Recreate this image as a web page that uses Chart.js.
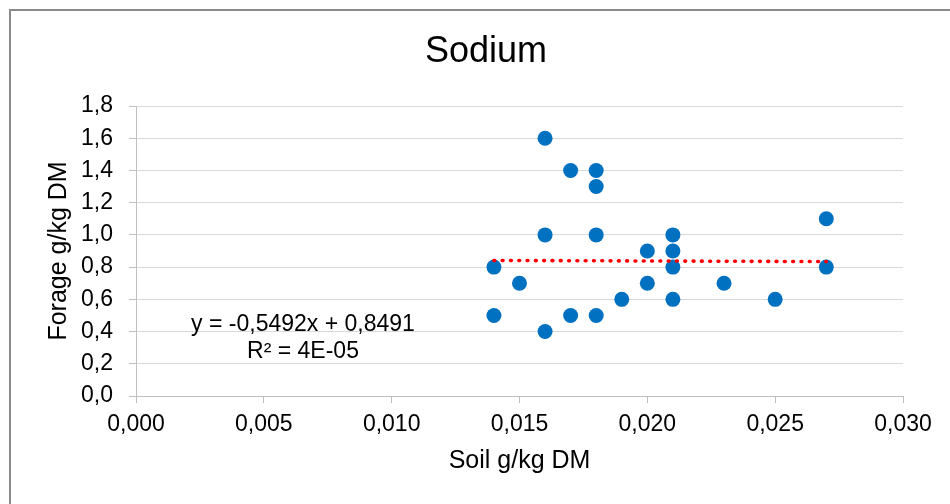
<!DOCTYPE html>
<html>
<head>
<meta charset="utf-8">
<script src="https://cdn.jsdelivr.net/npm/chart.js@4.4.1/dist/chart.umd.min.js"></script>
<style>
  html, body { margin: 0; padding: 0; background: #ffffff; }
  canvas { display: block; }
</style>
</head>
<body>
<canvas id="sodiumChart" width="950" height="504"></canvas>
<script>
// Soil vs forage sodium, g/kg DM
const soil = [0.014, 0.014, 0.015, 0.016, 0.016, 0.016, 0.017, 0.017, 0.018, 0.018, 0.018, 0.018,
              0.019, 0.020, 0.020, 0.021, 0.021, 0.021, 0.021, 0.023, 0.025, 0.027, 0.027];
const forage = [0.8, 0.5, 0.7, 1.6, 1.0, 0.4, 1.4, 0.5, 1.4, 1.3, 1.0, 0.5,
                0.6, 0.9, 0.7, 1.0, 0.9, 0.8, 0.6, 0.7, 0.6, 1.1, 0.8];

// Linear trendline as printed on the chart
const trendSlope = -0.5492;
const trendIntercept = 0.8491;
const trendLabel = ['y = -0,5492x + 0,8491', 'R² = 4E-05'];

const chartTitle = 'Sodium';
const xTitle = 'Soil g/kg DM';
const yTitle = 'Forage g/kg DM';

const FONT = '"Liberation Sans", Arial, sans-serif';

const trendX = [Math.min(...soil), Math.max(...soil)];
const trendPoints = trendX.map(x => ({ x: x, y: trendSlope * x + trendIntercept }));

// Frame, title and trendline label, drawn like the Excel chart
const decorPlugin = {
    id: 'decor',
    beforeDraw(chart) {
        const ctx = chart.ctx;
        ctx.save();
        ctx.fillStyle = '#ffffff';
        ctx.fillRect(0, 0, chart.width, chart.height);
        ctx.strokeStyle = '#8a8a8a';
        ctx.lineWidth = 2;
        ctx.beginPath();
        ctx.moveTo(10, chart.height);
        ctx.lineTo(10, 10);
        ctx.lineTo(chart.width, 10);
        ctx.stroke();
        ctx.restore();
    },
    afterDraw(chart) {
        const ctx = chart.ctx;
        ctx.save();
        ctx.fillStyle = '#000000';
        ctx.textAlign = 'center';
        ctx.textBaseline = 'middle';
        ctx.font = '36px ' + FONT;
        ctx.fillText(chartTitle, 486, 52);
        ctx.font = '23px ' + FONT;
        ctx.fillText(trendLabel[0], 303, 325);
        ctx.fillText(trendLabel[1], 303, 352);
        ctx.restore();
    }
};

const ctx = document.getElementById('sodiumChart').getContext('2d');
const sodiumChart = new Chart(ctx, {
    type: 'scatter',
    data: {
        datasets: [
            {
                label: 'Linear trend',
                type: 'line',
                data: trendPoints,
                borderColor: '#ff0000',
                borderWidth: 3.6,
                borderDash: [0.8, 7.5],
                borderCapStyle: 'round',
                pointRadius: 0,
                fill: false
            },
            {
                label: 'Sodium',
                data: soil.map((x, i) => ({ x: x, y: forage[i] })),
                backgroundColor: '#0070c0',
                borderWidth: 0,
                pointRadius: 7.5,
                pointHoverRadius: 7.5
            }
        ]
    },
    options: {
        responsive: false,
        animation: false,
        layout: {
            padding: { top: 106, right: 47, bottom: 0, left: 0 }
        },
        plugins: {
            legend: { display: false },
            tooltip: { enabled: false },
            title: { display: false }
        },
        scales: {
            x: {
                type: 'linear',
                min: 0,
                max: 0.03,
                afterFit: (scale) => { scale.height = 108; },
                ticks: {
                    stepSize: 0.005,
                    padding: 8,
                    color: '#000000',
                    font: { family: FONT, size: 23 },
                    callback: (v) => v.toFixed(3).replace('.', ',')
                },
                grid: {
                    drawOnChartArea: false,
                    tickLength: 7,
                    tickColor: '#bfbfbf'
                },
                border: { color: '#bfbfbf', width: 1 },
                title: {
                    display: true,
                    text: xTitle,
                    color: '#000000',
                    font: { family: FONT, size: 25 },
                    padding: { top: 0, bottom: 28 }
                }
            },
            y: {
                type: 'linear',
                min: 0,
                max: 1.8,
                afterFit: (scale) => { scale.width = 136; },
                ticks: {
                    stepSize: 0.2,
                    padding: 16,
                    color: '#000000',
                    font: { family: FONT, size: 23 },
                    callback: (v) => v.toFixed(1).replace('.', ',')
                },
                grid: {
                    color: '#d9d9d9',
                    tickLength: 7,
                    tickColor: '#bfbfbf'
                },
                border: { color: '#bfbfbf', width: 1 },
                title: {
                    display: true,
                    text: yTitle,
                    color: '#000000',
                    font: { family: FONT, size: 25 },
                    padding: { top: 44, bottom: 0 }
                }
            }
        }
    },
    plugins: [decorPlugin]
});
</script>
</body>
</html>
